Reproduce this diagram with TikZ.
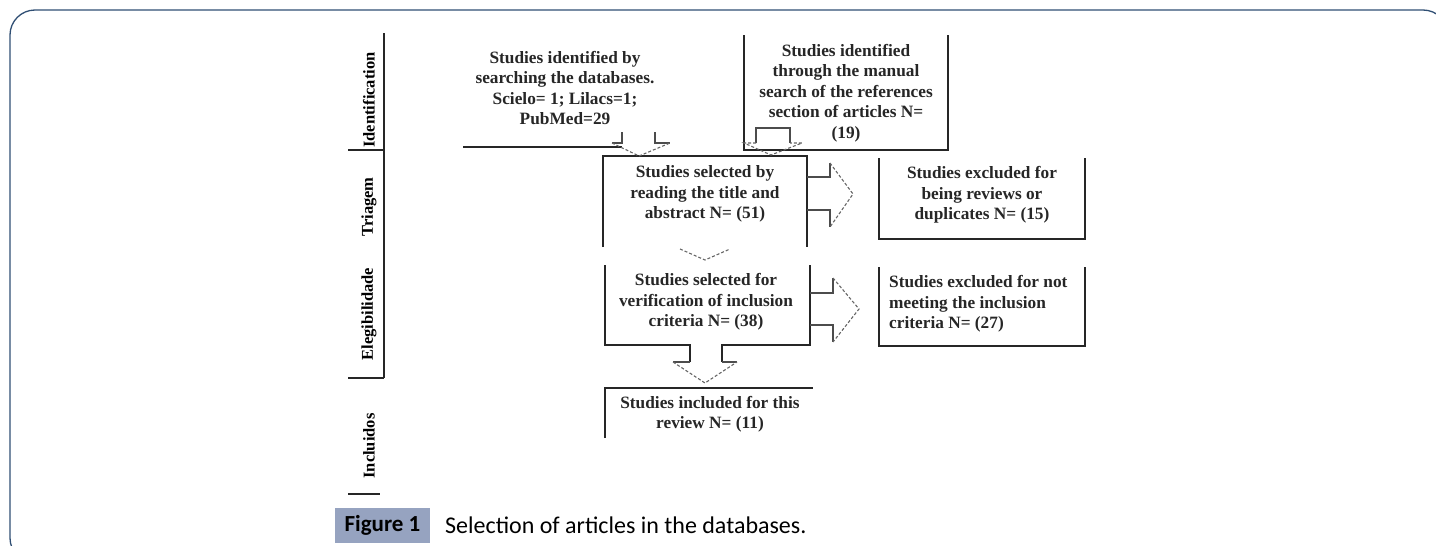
\documentclass[tikz,border=0pt]{standalone}
\usepackage{fontspec}
\setmainfont{Liberation Serif}
\newfontfamily\capfont{Carlito}
\usetikzlibrary{calc}
\definecolor{framec}{HTML}{2F4E73}
\definecolor{capbg}{RGB}{150,163,192}
\tikzset{
  boxline/.style={line width=1.8pt, black!85, line join=miter},
  arrline/.style={line width=1.2pt, black!70},
  arrtip/.style={line width=1.1pt, black!60, dash pattern=on 3pt off 2pt},
  txt/.style={font=\bfseries\fontsize{17.3}{20.5}\selectfont, align=center, inner sep=0pt, text=black!85},
  stagelbl/.style={font=\bfseries\fontsize{16.5}{18}\selectfont, rotate=90, inner sep=0pt},
  fr/.style={draw=none, inner sep=0pt, outer sep=0pt, minimum width=#1},
}
\begin{document}
\begin{tikzpicture}[x=1pt,y=-1pt]
\useasboundingbox (0,0) rectangle (1436,546);
\begin{scope}
  \clip (0,0) rectangle (1436,546);
  \draw[framec, line width=1.3pt, rounded corners=25pt] (10,10) rectangle (1448,563);
\end{scope}

% stage bar
\coordinate (sbTop) at (384,33);
\coordinate (sbA) at (384,150);
\coordinate (sbB) at (384,378);
\coordinate (sbAL) at (348,150);
\coordinate (sbBL) at (348,378);
\coordinate (sbCL) at (348,494);
\coordinate (sbCR) at (380,494);
\draw[boxline] (sbTop) -- (sbB);
\draw[boxline] (sbAL) -- (sbA);
\draw[boxline] (sbBL) -- (sbB);
\draw[boxline] (sbCL) -- (sbCR);
\node[stagelbl] (s1) at (369,100) {Identification};
\node[stagelbl] (s2) at (369,207) {Triagem};
\node[stagelbl] (s3) at (369,314) {Elegibilidade};
\node[stagelbl] (s4) at (369,446) {Incluidos};

% frames
\node[fr=204pt, minimum height=115pt] (TR) at (846,92.5) {};
\node[fr=204pt, minimum height=91pt] (B2) at (705,201.5) {};
\node[fr=206pt, minimum height=81pt] (E1) at (982,198.5) {};
\node[fr=206pt, minimum height=79pt] (E2) at (982,306.5) {};

% texts
\node[txt] (t1) at (565,88) {Studies identified by\\searching the databases.\\Scielo= 1; Lilacs=1;\\PubMed=29};
\node[txt] (t2) at (846,93) {Studies identified\\through the manual\\search of the references\\section of articles N=\\(19)};
\node[txt] (t3) at (705,194) {Studies selected by\\reading the title and\\abstract N= (51)};
\node[txt] (t4) at (706,302) {Studies selected for\\verification of inclusion\\criteria N= (38)};
\node[txt] (t5) at (710,414) {Studies included for this\\review N= (11)};
\node[txt] (t6) at (982,195) {Studies excluded for\\being reviews or\\duplicates N= (15)};
\node[txt, align=left, anchor=west] (t7) at (889,304) {Studies excluded for not\\meeting the inclusion\\criteria N= (27)};

% box outlines
\coordinate (B1s) at (463,147);
\coordinate (B1e) at (622,147);
\draw[boxline] (B1s) -- (B1e);
\draw[boxline] (TR.north west) -- (TR.south west) -- (TR.south east) -- (TR.north east);
\draw[boxline] (B2.south west) -- (B2.north west) -- (B2.north east) -- (B2.south east);
\draw[boxline] (E1.north west) -- (E1.south west) -- (E1.south east) -- (E1.north east);
\draw[boxline] (E2.north west) -- (E2.south west) -- (E2.south east) -- (E2.north east);
% B3 with stem of down arrow
\draw[boxline] (605,265) -- (605,345) -- (690,345) -- (690,362);
\draw[boxline] (810,265) -- (810,345) -- (722,345) -- (722,362);
\draw[arrline] (690,362) -- (673,362);
\draw[arrline] (722,362) -- (737,362);
\coordinate (tipD) at (705,383);
\draw[arrtip] (673,362) -- (tipD) -- (737,362);
% B4
\draw[boxline] (605,438) -- (605,388) -- (813,388);

% arrow A (B1 -> B2)
\draw[arrline] (622,132) -- (622,143) -- (612,143);
\draw[arrline] (655,132) -- (655,143) -- (670,143);
\coordinate (tipA) at (639,156);
\draw[arrtip] (612,143) -- (tipA) -- (670,143);
% arrow B (TR -> B2)
\draw[arrline] (756,143) -- (756,128) -- (790,128) -- (790,143);
\coordinate (tipB) at (771,155);
\draw[arrtip] (756,143) -- (744,143) -- (tipB) -- (802,143) -- (790,143);
% arrow C (B2 -> B3)
\coordinate (tipC) at (705,260);
\draw[arrtip] (680,249) -- (tipC) -- (730,249);
% arrow E (B2 -> E1)
\draw[arrline] (807,177) -- (830,177) -- (830,163);
\draw[arrline] (807,210) -- (830,210) -- (830,227);
\coordinate (tipE) at (853,194);
\draw[arrtip] (830,163) -- (tipE) -- (830,227);
% arrow F (B3 -> E2)
\draw[arrline] (810,293) -- (833,293) -- (833,278);
\draw[arrline] (810,325) -- (833,325) -- (833,342);
\coordinate (tipF) at (859,309);
\draw[arrtip] (833,278) -- (tipF) -- (833,342);

% caption
\fill[capbg] (335,508) rectangle (430,543);
\node[font=\capfont\bfseries\fontsize{23}{25}\selectfont, inner sep=0pt] (fig) at (382.5,525.5) {Figure 1};
\node[font=\capfont\fontsize{24}{26}\selectfont, anchor=west, inner sep=0pt] (cap) at (445,525.5) {Selection of articles in the databases.};
\end{tikzpicture}
\end{document}
